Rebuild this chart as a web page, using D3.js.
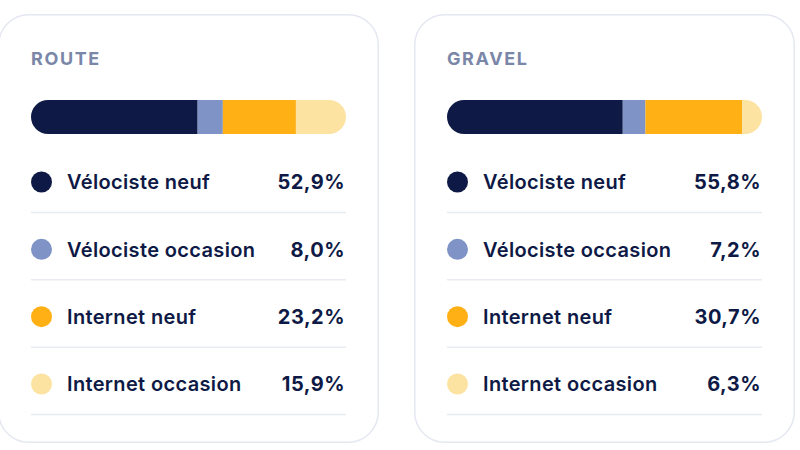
<!DOCTYPE html>
<html>
<head>
<meta charset="utf-8">
<script src="https://cdn.jsdelivr.net/npm/d3@7"></script>
<style>
  body { margin: 0; background: #fff; }
  svg { display: block; font-family: Inter, "Noto Sans", sans-serif; }
</style>
</head>
<body>
<div id="root"></div>
<script>
// chart data
const panelTitles = ["ROUTE", "GRAVEL"];
const categories = ["Vélociste neuf", "Vélociste occasion", "Internet neuf", "Internet occasion"];
const routeValues = [52.9, 8.0, 23.2, 15.9];
const gravelValues = [55.8, 7.2, 30.7, 6.3];
const colors = ["#0e1a45", "#7f93c7", "#ffb015", "#fde3a1"];

const panelValues = [routeValues, gravelValues];

const width = 800, height = 450;
const card = { width: 381, height: 429, top: 14, radius: 30, gap: 35 };
const inner = { left: 33, right: 33 };

const svg = d3.select("#root")
  .append("svg")
  .attr("width", width)
  .attr("height", height)
  .attr("viewBox", [0, 0, width, height]);

// one card per panel, laid out side by side
const xCard = d3.scaleBand()
  .domain(panelTitles)
  .range([-2, -2 + card.width * 2 + card.gap])
  .paddingInner(card.gap / (card.width + card.gap));

const fmt = (v) => d3.format(".1f")(v).replace(".", ",") + "%";

panelTitles.forEach((title, i) => {
  const values = panelValues[i];
  const x0 = xCard(title);
  const g = svg.append("g")
    .attr("transform", `translate(${x0}, ${card.top})`);

  g.append("rect")
    .attr("x", 0.75)
    .attr("y", 0.75)
    .attr("width", card.width - 1.5)
    .attr("height", card.height - 1.5)
    .attr("rx", card.radius)
    .attr("fill", "#fff")
    .attr("stroke", "#e5e8f1")
    .attr("stroke-width", 1.5);

  g.append("text")
    .attr("x", inner.left)
    .attr("y", 51)
    .attr("fill", "#7b87a8")
    .attr("font-size", 18)
    .attr("font-weight", 700)
    .attr("letter-spacing", 1.6)
    .text(title);

  // stacked bar
  const barW = card.width - inner.left - inner.right;
  const x = d3.scaleLinear().domain([0, d3.sum(values)]).range([0, barW]);
  const ends = d3.cumsum(values);
  const starts = ends.map((e, k) => e - values[k]);
  const bar = { y: 86, h: 34 };

  const clipId = `clip-${i}`;
  g.append("clipPath")
    .attr("id", clipId)
    .append("rect")
    .attr("x", inner.left)
    .attr("y", bar.y)
    .attr("width", barW)
    .attr("height", bar.h)
    .attr("rx", bar.h / 2);

  g.append("g")
    .attr("clip-path", `url(#${clipId})`)
    .selectAll("rect")
    .data(values)
    .join("rect")
    .attr("x", (d, k) => inner.left + x(starts[k]))
    .attr("y", bar.y)
    .attr("width", (d, k) => x(ends[k]) - x(starts[k]))
    .attr("height", bar.h)
    .attr("fill", (d, k) => colors[k]);

  // legend rows
  const y = d3.scalePoint()
    .domain(categories)
    .range([168, 370]);

  const rows = g.selectAll("g.row")
    .data(categories)
    .join("g")
    .attr("class", "row")
    .attr("transform", (d) => `translate(0, ${y(d)})`);

  rows.append("circle")
    .attr("cx", inner.left + 10.5)
    .attr("cy", 0)
    .attr("r", 10.5)
    .attr("fill", (d, k) => colors[k]);

  rows.append("text")
    .attr("x", inner.left + 36)
    .attr("dy", "0.36em")
    .attr("fill", "#0e1a45")
    .attr("font-size", 20)
    .attr("font-weight", 600)
    .attr("letter-spacing", 0.35)
    .text((d) => d);

  rows.append("text")
    .attr("x", inner.left + barW - 1)
    .attr("dy", "0.36em")
    .attr("text-anchor", "end")
    .attr("fill", "#0e1a45")
    .attr("font-size", 20)
    .attr("font-weight", 700)
    .attr("letter-spacing", 0.5)
    .text((d, k) => fmt(values[k]));

  rows.append("line")
    .attr("x1", inner.left)
    .attr("x2", inner.left + barW)
    .attr("y1", 30.5)
    .attr("y2", 30.5)
    .attr("stroke", "#e8ebf3")
    .attr("stroke-width", 1.5);
});
</script>
</body>
</html>
